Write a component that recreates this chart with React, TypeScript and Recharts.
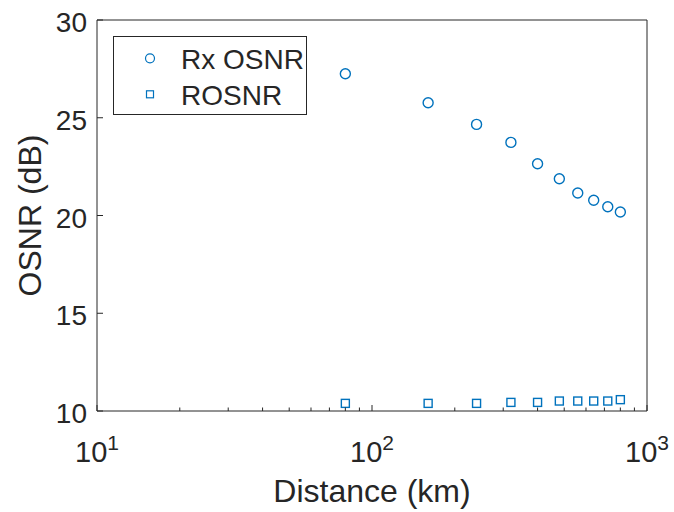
import { ScatterChart, Scatter, XAxis, YAxis, Legend } from 'recharts';

const distances = [80, 160, 240, 320, 400, 480, 560, 640, 720, 800];
const rxOsnr = [27.25, 25.77, 24.66, 23.74, 22.65, 21.88, 21.15, 20.78, 20.45, 20.18];
const rosnr = [10.39, 10.39, 10.39, 10.44, 10.44, 10.51, 10.51, 10.51, 10.51, 10.58];
const seriesNames = ['Rx OSNR', 'ROSNR'];

const xTicks = [10, 20, 30, 40, 50, 60, 70, 80, 90, 100, 200, 300, 400, 500, 600, 700, 800, 900, 1000];
const xMajor = [10, 100, 1000];
const yTicks = [10, 15, 20, 25, 30];

const BLUE = '#0072BD';
const TEXT = '#262626';
const FONT = '"Liberation Sans", Arial, Helvetica, sans-serif';

const rxData = distances.map((d, i) => ({ d, v: rxOsnr[i] }));
const roData = distances.map((d, i) => ({ d, v: rosnr[i] }));

const tickLen = (v: number) => (xMajor.includes(v) ? 6 : 3.5);

const BottomTick = (props: any) => {
    const { x, y, payload } = props;
    const v = payload.value;
    return (
        <g>
            <line x1={x} x2={x} y1={y} y2={y - tickLen(v)} stroke={TEXT} />
            {xMajor.includes(v) && (
                <text x={x} y={y + 51} textAnchor="middle" fill={TEXT} fontSize={29}>
                    <tspan>10</tspan>
                    <tspan dy={-12} fontSize={21}>{Math.round(Math.log10(v))}</tspan>
                </text>
            )}
        </g>
    );
};

const TopTick = (props: any) => {
    const { x, y, payload } = props;
    return <line x1={x} x2={x} y1={y} y2={y + tickLen(payload.value)} stroke={TEXT} />;
};

const LeftTick = (props: any) => {
    const { x, y, payload } = props;
    return (
        <g>
            <line x1={x} x2={x + 6} y1={y} y2={y} stroke={TEXT} />
            <text x={x - 10} y={y + 12} textAnchor="end" fill={TEXT} fontSize={28}>
                {payload.value}
            </text>
        </g>
    );
};

const RightTick = (props: any) => {
    const { x, y } = props;
    return <line x1={x} x2={x - 6} y1={y} y2={y} stroke={TEXT} />;
};

const Circle = (p: any) => <circle cx={p.cx} cy={p.cy} r={5} fill="none" stroke={BLUE} strokeWidth={1.4} />;
const Square = (p: any) => (
    <rect x={p.cx - 4} y={p.cy - 4} width={8} height={8} fill="none" stroke={BLUE} strokeWidth={1.4} />
);

// keep legend rows in plotting order (recharts sorts them by name)
const LegendBox = (props: any) => {
    const items = [...(props.payload || [])].sort(
        (a: any, b: any) => seriesNames.indexOf(a.value) - seriesNames.indexOf(b.value)
    );
    return (
        <svg width={194} height={79} style={{ display: 'block' }}>
            <rect x={0.5} y={0.5} width={193} height={78} fill="#fff" stroke={TEXT} />
            {items.map((it: any, i: number) => {
                const cy = 22.3 + i * 36;
                return (
                    <g key={it.value}>
                        {it.type === 'circle' ? (
                            <circle cx={37} cy={cy} r={4.5} fill="none" stroke={BLUE} strokeWidth={1.2} />
                        ) : (
                            <rect x={33.5} y={cy - 3.5} width={7} height={7} fill="none" stroke={BLUE} strokeWidth={1.2} />
                        )}
                        <text x={68} y={cy + 10.5} fontSize={28} fill={TEXT} fontFamily={FONT}>
                            {it.value}
                        </text>
                    </g>
                );
            })}
        </svg>
    );
};

export default function App() {
    return (
        <div style={{ position: 'absolute', left: 0, top: 0, fontFamily: FONT, background: '#fff' }}>
            <ScatterChart width={674} height={512} margin={{ top: 0, right: 0, bottom: 0, left: 0 }}>
                <XAxis
                    dataKey="d"
                    type="number"
                    scale="log"
                    domain={[10, 1000]}
                    ticks={xTicks}
                    interval={0}
                    height={101}
                    tickSize={0}
                    tickMargin={0}
                    tickLine={false}
                    axisLine={{ stroke: TEXT }}
                    tick={BottomTick}
                    label={(p: any) => (
                        <text
                            x={p.viewBox.x + p.viewBox.width / 2}
                            y={p.viewBox.y + 91}
                            textAnchor="middle"
                            fill={TEXT}
                            fontSize={32}
                        >
                            Distance (km)
                        </text>
                    )}
                />
                <XAxis
                    xAxisId="top"
                    orientation="top"
                    type="number"
                    scale="log"
                    domain={[10, 1000]}
                    ticks={xTicks}
                    interval={0}
                    height={20}
                    tickSize={0}
                    tickMargin={0}
                    tickLine={false}
                    axisLine={{ stroke: TEXT }}
                    tick={TopTick}
                />
                <YAxis
                    dataKey="v"
                    type="number"
                    domain={[10, 30]}
                    ticks={yTicks}
                    interval={0}
                    width={97}
                    tickSize={0}
                    tickMargin={0}
                    tickLine={false}
                    axisLine={{ stroke: TEXT }}
                    tick={LeftTick}
                    label={(p: any) => (
                        <text
                            x={p.viewBox.x + 41}
                            y={p.viewBox.y + p.viewBox.height / 2}
                            transform={`rotate(-90 ${p.viewBox.x + 41} ${p.viewBox.y + p.viewBox.height / 2})`}
                            textAnchor="middle"
                            fill={TEXT}
                            fontSize={32}
                        >
                            OSNR (dB)
                        </text>
                    )}
                />
                <YAxis
                    yAxisId="right"
                    orientation="right"
                    type="number"
                    domain={[10, 30]}
                    ticks={yTicks}
                    interval={0}
                    width={27}
                    tickSize={0}
                    tickMargin={0}
                    tickLine={false}
                    axisLine={{ stroke: TEXT }}
                    tick={RightTick}
                />
                <Legend
                    layout="horizontal"
                    verticalAlign="middle"
                    align="center"
                    content={LegendBox}
                    wrapperStyle={{ left: 113, top: 36, width: 194, height: 79 }}
                />
                <Scatter name={seriesNames[0]} data={rxData} legendType="circle" shape={Circle} isAnimationActive={false} />
                <Scatter name={seriesNames[1]} data={roData} legendType="square" shape={Square} isAnimationActive={false} />
            </ScatterChart>
        </div>
    );
}
